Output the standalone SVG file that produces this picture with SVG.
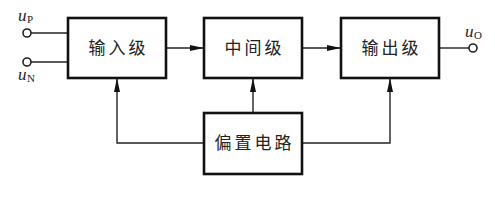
<svg xmlns="http://www.w3.org/2000/svg" width="495" height="200" viewBox="0 0 495 200">
<style>
.box{fill:#fff;stroke:#111;stroke-width:2.6}
.ln{fill:none;stroke:#222;stroke-width:1.4}
.t{font-family:"Noto Sans CJK SC","Noto Sans CJK JP",sans-serif;font-size:17px;fill:#222;text-anchor:middle;letter-spacing:3px}
.u{font-family:"Liberation Serif",serif;font-style:italic;font-size:17px;fill:#222}
.s{font-family:"Liberation Serif",serif;font-size:11px;fill:#222}
.pin{fill:#fff;stroke:#222;stroke-width:1.6}
</style>
<defs>
<marker id="ah" viewBox="0 0 14 6" refX="14" refY="3" markerWidth="14" markerHeight="6" markerUnits="userSpaceOnUse" orient="auto">
<path d="M0,0 L14,3 L0,6 Z" fill="#111"/>
</marker>
</defs>
<g id="connectors">
<line class="ln" x1="31" y1="33" x2="68" y2="33"/>
<line class="ln" x1="31" y1="62" x2="68" y2="62"/>
<line class="ln" x1="166" y1="48" x2="204" y2="48" marker-end="url(#ah)"/>
<line class="ln" x1="302" y1="48" x2="341" y2="48" marker-end="url(#ah)"/>
<line class="ln" x1="439" y1="48" x2="469" y2="48"/>
<polyline class="ln" points="204,143 117,143 117,78" marker-end="url(#ah)"/>
<line class="ln" x1="253" y1="113" x2="253" y2="78" marker-end="url(#ah)"/>
<polyline class="ln" points="302,143 390,143 390,78" marker-end="url(#ah)"/>
</g>
<g id="uP">
<circle class="pin" cx="27" cy="33" r="4"/>
<text class="u" x="18" y="21">u</text><text class="s" x="27" y="23">P</text>
</g>
<g id="uN">
<circle class="pin" cx="27" cy="62" r="4"/>
<text class="u" x="18" y="80">u</text><text class="s" x="27" y="82">N</text>
</g>
<g id="uO">
<circle class="pin" cx="473" cy="48" r="4"/>
<text class="u" x="465" y="37">u</text><text class="s" x="474" y="39">O</text>
</g>
<g id="input">
<rect class="box" x="68" y="18" width="98" height="60"/>
<text class="t" x="118.5" y="54">输入级</text>
</g>
<g id="middle">
<rect class="box" x="204" y="18" width="98" height="60"/>
<text class="t" x="254.5" y="54">中间级</text>
</g>
<g id="output">
<rect class="box" x="341" y="18" width="98" height="60"/>
<text class="t" x="391.5" y="54">输出级</text>
</g>
<g id="bias">
<rect class="box" x="204" y="113" width="98" height="61"/>
<text class="t" x="254.5" y="149">偏置电路</text>
</g>
</svg>
